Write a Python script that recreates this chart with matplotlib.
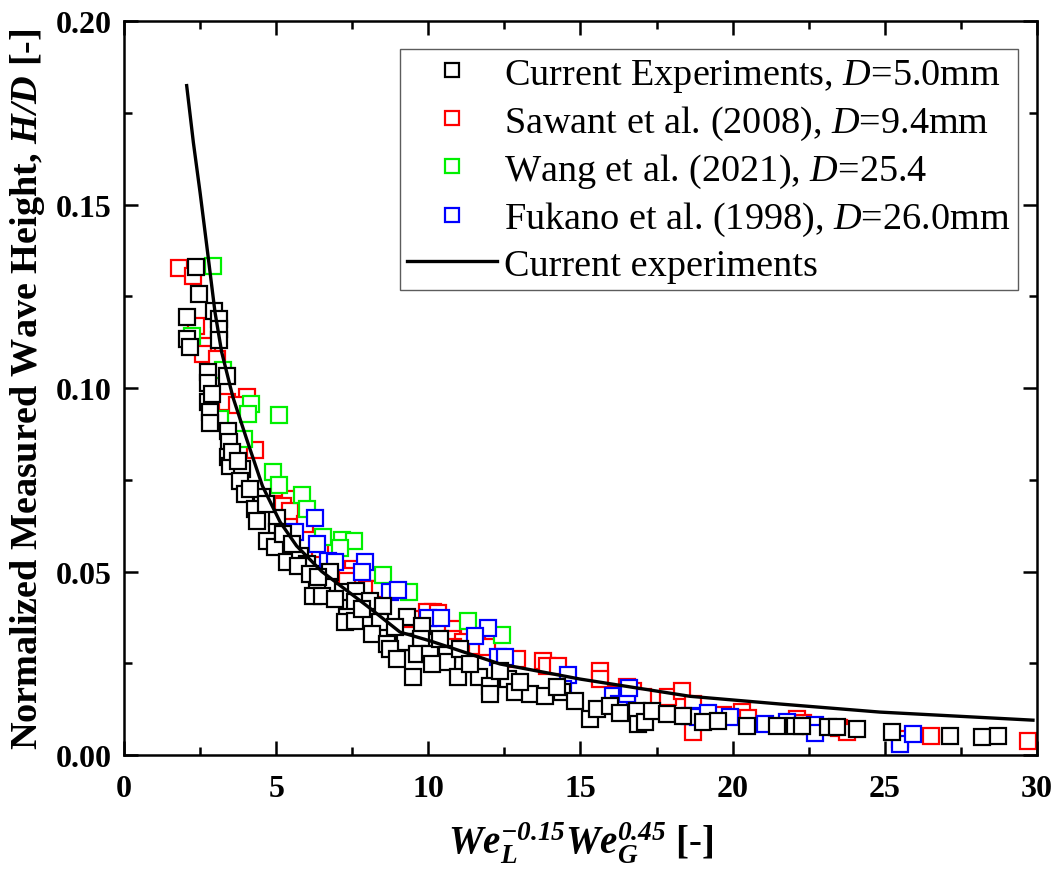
import matplotlib
matplotlib.use("Agg")
import matplotlib.pyplot as plt
from matplotlib.ticker import MultipleLocator, FormatStrFormatter

plt.rcParams['font.family'] = ['Liberation Serif', 'DejaVu Serif']
plt.rcParams['mathtext.fontset'] = 'custom'
plt.rcParams['mathtext.rm'] = 'Liberation Serif'
plt.rcParams['mathtext.it'] = 'Liberation Serif:italic'
plt.rcParams['mathtext.bf'] = 'Liberation Serif:bold:italic'

# Current experiments, D = 5.0 mm
cur_x = [2.37, 2.46, 2.07, 2.96, 3.12, 3.12, 3.12, 2.07, 2.17, 2.76, 2.76, 3.38, 2.76, 2.83,
         2.83, 3.42, 3.45, 3.42, 3.48, 3.88, 3.81, 3.98, 4.53, 4.30, 4.37, 5.03, 5.03, 4.70,
         4.96, 5.36, 5.78, 6.01, 6.77, 6.74, 6.34, 6.21, 6.51, 7.20, 7.62, 7.59, 8.08, 8.51,
         7.33, 7.26, 7.59, 8.41, 9.30, 9.79, 9.30, 9.76, 8.15, 8.64, 9.23, 8.74, 8.97, 9.63,
         10.06, 10.61, 10.61, 9.50, 10.12, 10.98, 11.67, 12.03, 12.03, 12.62, 12.85, 13.34,
         13.84, 14.39, 14.82, 15.31, 15.54, 15.97, 16.86, 16.89, 17.12, 17.35, 17.84, 18.37,
         19.03, 19.52, 20.47, 21.46, 22.05, 22.28, 23.13, 23.43, 24.09, 25.24, 27.14, 28.20,
         28.72, 2.89, 3.55, 3.75, 4.14, 4.67, 5.23, 5.52, 5.72, 6.11, 6.38, 6.93, 7.82, 8.91,
         10.38, 11.04, 11.37, 12.36, 13.01, 14.23, 16.30]
cur_y = [0.1330, 0.1256, 0.1193, 0.1210, 0.1188, 0.1161, 0.1131, 0.1134, 0.1112, 0.1044,
         0.1014, 0.1033, 0.0962, 0.0935, 0.0905, 0.0883, 0.0853, 0.0812, 0.0787, 0.0779,
         0.0747, 0.0711, 0.0703, 0.0670, 0.0638, 0.0646, 0.0608, 0.0583, 0.0567, 0.0526,
         0.0542, 0.0520, 0.0499, 0.0458, 0.0460, 0.0433, 0.0433, 0.0444, 0.0447, 0.0417,
         0.0420, 0.0406, 0.0376, 0.0362, 0.0365, 0.0362, 0.0376, 0.0351, 0.0308, 0.0316,
         0.0330, 0.0302, 0.0308, 0.0289, 0.0262, 0.0275, 0.0275, 0.0275, 0.0253, 0.0213,
         0.0248, 0.0213, 0.0213, 0.0188, 0.0166, 0.0207, 0.0172, 0.0166, 0.0161, 0.0172,
         0.0147, 0.0098, 0.0125, 0.0134, 0.0120, 0.0084, 0.0090, 0.0120, 0.0112, 0.0106,
         0.0090, 0.0093, 0.0079, 0.0079, 0.0079, 0.0079, 0.0076, 0.0076, 0.0071, 0.0063,
         0.0052, 0.0049, 0.0052, 0.0984, 0.0826, 0.0801, 0.0725, 0.0684, 0.0602, 0.0575,
         0.0515, 0.0493, 0.0485, 0.0425, 0.0398, 0.0349, 0.0316, 0.0289, 0.0248, 0.0229,
         0.0199, 0.0185, 0.0114]

# Sawant et al. (2008), D = 9.4 mm
saw_x = [1.81, 2.27, 2.37, 2.73, 2.60, 3.06, 4.04, 3.38, 3.71, 4.30, 5.03, 5.46, 5.23, 5.46,
         7.53, 7.33, 7.33, 7.99, 8.41, 9.50, 10.15, 9.96, 10.32, 10.81, 10.78, 11.14, 10.81,
         11.60, 11.93, 12.91, 13.77, 13.90, 14.26, 15.64, 15.64, 16.20, 16.53, 16.73, 17.06,
         17.88, 18.34, 18.70, 18.70, 19.68, 20.31, 20.51, 22.12, 22.31, 22.58, 23.50, 23.76,
         25.50, 26.52, 29.71, 5.95, 6.44]
saw_y = [0.1327, 0.1305, 0.1169, 0.1114, 0.1093, 0.1079, 0.0975, 0.0962, 0.0954, 0.0831,
         0.0684, 0.0698, 0.0678, 0.0665, 0.0507, 0.0488, 0.0474, 0.0452, 0.0452, 0.0371,
         0.0390, 0.0390, 0.0387, 0.0343, 0.0316, 0.0308, 0.0294, 0.0297, 0.0294, 0.0262,
         0.0256, 0.0243, 0.0243, 0.0229, 0.0207, 0.0166, 0.0185, 0.0174, 0.0158, 0.0158,
         0.0174, 0.0139, 0.0063, 0.0109, 0.0117, 0.0101, 0.0098, 0.0087, 0.0079, 0.0074,
         0.0063, 0.0044, 0.0052, 0.0038, 0.0629, 0.0561]

# Wang et al. (2021), D = 25.4
wang_x = [2.92, 2.23, 3.25, 4.17, 4.07, 5.09, 3.15, 3.94, 4.90, 5.09, 5.85, 6.01, 6.54, 7.16,
          7.56, 7.10, 8.51, 9.37, 11.30, 12.42]
wang_y = [0.1332, 0.1142, 0.1049, 0.0956, 0.0929, 0.0926, 0.0916, 0.0861, 0.0771, 0.0736,
          0.0708, 0.0670, 0.0594, 0.0586, 0.0583, 0.0564, 0.0490, 0.0444, 0.0365, 0.0327]

# Fukano et al. (1998), D = 26.0 mm
fuk_x = [6.28, 5.62, 6.34, 6.70, 6.93, 7.92, 7.82, 8.74, 9.00, 9.99, 10.42, 11.96, 11.53,
         12.29, 12.52, 14.59, 14.43, 16.07, 16.27, 16.53, 16.60, 18.60, 18.86, 19.19, 19.91,
         21.06, 21.79, 22.71, 22.71, 25.50, 25.93]
fuk_y = [0.0646, 0.0608, 0.0575, 0.0529, 0.0526, 0.0526, 0.0499, 0.0444, 0.0450, 0.0373,
         0.0373, 0.0346, 0.0324, 0.0267, 0.0267, 0.0218, 0.0180, 0.0161, 0.0139, 0.0166,
         0.0183, 0.0106, 0.0104, 0.0114, 0.0104, 0.0084, 0.0090, 0.0082, 0.0060, 0.0030,
         0.0057]

# fitted curve for the current experiments
fit_x = [2.06, 2.28, 2.50, 2.72, 2.99, 3.21, 3.58, 4.03, 4.55, 5.13, 5.67, 6.50, 7.99, 9.07,
         10.06, 12.36, 14.99, 18.60, 21.56, 24.84, 29.87]
fit_y = [0.1824, 0.1669, 0.1533, 0.1388, 0.1207, 0.1098, 0.0975, 0.0861, 0.0733, 0.0635,
         0.0570, 0.0500, 0.0406, 0.0335, 0.0311, 0.0248, 0.0207, 0.0160, 0.0139, 0.0117,
         0.0095]


def main():
    fig = plt.figure(figsize=(10.57, 8.70), dpi=100)
    ax = fig.add_axes([0.1173, 0.131, 0.8637, 0.8437])

    common = dict(ls='none', marker='s', ms=11.5, mew=1.6, mfc='white')
    ax.plot(cur_x, cur_y, mec='black', zorder=3,
            label=r'Current Experiments, $\mathit{D}$=5.0mm', **common)
    ax.plot(saw_x, saw_y, mec='#ff0000', zorder=2,
            label=r'Sawant et al. (2008), $\mathit{D}$=9.4mm', **common)
    ax.plot(wang_x, wang_y, mec='#00f000', zorder=2,
            label=r'Wang et al. (2021), $\mathit{D}$=25.4', **common)
    ax.plot(fuk_x, fuk_y, mec='#0000ff', zorder=2.5,
            label=r'Fukano et al. (1998), $\mathit{D}$=26.0mm', **common)
    ax.plot(fit_x, fit_y, color='black', lw=2.4, zorder=4, label='Current experiments')

    ax.set_xlim(0, 30)
    ax.set_ylim(0, 0.20)
    ax.xaxis.set_major_locator(MultipleLocator(5))
    ax.xaxis.set_minor_locator(MultipleLocator(2.5))
    ax.yaxis.set_major_locator(MultipleLocator(0.05))
    ax.yaxis.set_minor_locator(MultipleLocator(0.025))
    ax.yaxis.set_major_formatter(FormatStrFormatter('%.2f'))

    ax.tick_params(which='both', direction='in', top=True, right=True, width=1.8)
    ax.tick_params(which='major', length=10, labelsize=23)
    ax.tick_params(axis='x', which='major', pad=14)
    ax.tick_params(axis='y', which='major', pad=9)
    ax.tick_params(which='minor', length=6)
    for lab in ax.get_xticklabels() + ax.get_yticklabels():
        lab.set_fontweight('bold')
    for sp in ax.spines.values():
        sp.set_linewidth(1.8)

    ax.set_xlabel(r'$\mathbf{We_{L}^{-0.15}We_{G}^{0.45}}$ [-]', fontsize=28,
                  fontweight='bold', labelpad=12)
    ax.set_ylabel(r'Normalized Measured Wave Height, $\mathbf{H/D}$ [-]', fontsize=27.5,
                  fontweight='bold', labelpad=6)

    leg = ax.legend(loc='upper right', bbox_to_anchor=(0.979, 0.962), fontsize=27.5,
                    frameon=True, fancybox=False, edgecolor='#333333', markerscale=0.85,
                    handlelength=2.35, handletextpad=0.18, labelspacing=0.26,
                    borderpad=0.2, borderaxespad=0.0)
    leg.get_frame().set_linewidth(1.0)

    fig.savefig('out.png', dpi=100)


if __name__ == '__main__':
    main()
